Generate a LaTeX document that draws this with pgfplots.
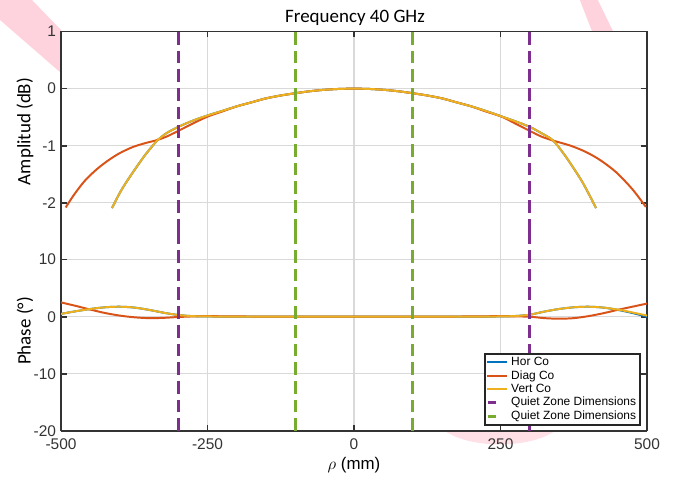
\documentclass[border=0pt]{standalone}
\usepackage{fontspec}
\setmainfont{Liberation Sans}
\newfontfamily\calibri{Carlito}
\usepackage{pgfplots}
\pgfplotsset{compat=1.18}

\definecolor{horco}{HTML}{0072BD}
\definecolor{diagco}{HTML}{D95319}
\definecolor{vertco}{HTML}{EDB120}
\definecolor{qzpurple}{HTML}{7E2F8E}
\definecolor{qzgreen}{HTML}{77AC30}
\definecolor{wmark}{HTML}{FFD3DD}

\pgfplotsset{
  mat/.style={
    width=14.65cm, height=5cm, scale only axis,
    xmin=-500, xmax=500, xtick={-500,-250,0,250,500},
    grid=major, major grid style={draw=black!15, line width=0.8pt},
    tick align=inside, major tick length=0.15cm,
    axis line style={draw=black!80, line width=1.2pt},
    tick style={draw=black!80, line width=1.2pt},
    ticklabel style={font=\fontsize{11}{13}\selectfont, text=black!80},
    /pgf/number format/assume math mode=true,
    axis y line*=box,
    axis background/.style={fill=white},
    ylabel style={font=\calibri\fontsize{13.5}{16}\selectfont,
      at={(axis description cs:-0.0614,0.5)}, anchor=center},
    legend image code/.code={\draw[##1] (0cm,0cm) -- (0.5cm,0cm);},
  },
  curve/.style={line width=1.4pt, smooth},
  qz/.style={line width=2.1pt, dash pattern=on 9pt off 4.3pt,
    legend image code/.code={\draw[##1, solid] (0.02cm,0cm) -- (0.22cm,0cm);}},
}

\begin{document}
\begin{tikzpicture}
\path[use as bounding box] (0,0) rectangle (16.9cm,11.9cm);

% watermark behind the plot
\begin{scope}[x=0.025cm, y=-0.025cm, shift={(0,11.9cm)}]
  \fill[wmark] (0,0) -- (32,0) -- (61,30) -- (61,73) -- (0,20) -- cycle;
  \fill[wmark] (580,0) -- (598,0) -- (613,31) -- (592,31) -- cycle;
  \fill[wmark!70] (445,431) .. controls (470,449) and (530,449) .. (555,431) -- cycle;
\end{scope}

\node[font=\calibri\fontsize{13.5}{16}\selectfont] at (8.875cm,11.45cm) {Frequency 40 GHz};

% amplitude
\begin{axis}[mat,
  at={(1.525cm,6.1125cm)}, anchor=south west,
  axis x line*=top, xticklabels={},
  ymin=-2.5, ymax=1, ytick={-2,-1,0,1},
  ylabel={Amplitud (dB)},
]
\addplot[horco, curve] coordinates {
  (-413,-2.09) (-400,-1.83) (-390,-1.66) (-377,-1.46) (-360,-1.21) (-350,-1.08)
  (-336,-0.91) (-320,-0.78) (-300,-0.67) (-275,-0.56) (-250,-0.47) (-225,-0.39)
  (-200,-0.31) (-175,-0.24) (-150,-0.17) (-125,-0.12) (-100,-0.08) (-75,-0.045)
  (-50,-0.02) (-25,-0.005) (0,0) (25,-0.005) (50,-0.02) (75,-0.045) (100,-0.08)
  (125,-0.12) (150,-0.17) (175,-0.24) (200,-0.31) (225,-0.39) (250,-0.48)
  (275,-0.57) (300,-0.67) (320,-0.78) (340,-0.91) (360,-1.17) (379,-1.46)
  (390,-1.64) (400,-1.83) (413,-2.09)
};
\addplot[diagco, curve] coordinates {
  (-492,-2.08) (-478,-1.86) (-460,-1.62) (-440,-1.42) (-420,-1.26) (-400,-1.13)
  (-377,-1.02) (-355,-0.95) (-336,-0.90) (-320,-0.84) (-300,-0.74) (-275,-0.61)
  (-250,-0.49) (-225,-0.40) (-200,-0.31) (-175,-0.24) (-150,-0.17) (-125,-0.12)
  (-100,-0.08) (-75,-0.045) (-50,-0.02) (-25,-0.005) (0,0) (25,-0.005) (50,-0.02)
  (75,-0.045) (100,-0.08) (125,-0.12) (150,-0.17) (175,-0.24) (200,-0.31)
  (225,-0.40) (252,-0.49) (275,-0.61) (302,-0.75) (320,-0.84) (340,-0.91)
  (370,-1.00) (396,-1.11) (420,-1.25) (447,-1.46) (475,-1.76) (498,-2.07)
};
\addplot[vertco, curve] coordinates {
  (-413,-2.09) (-400,-1.83) (-390,-1.66) (-377,-1.46) (-360,-1.21) (-350,-1.08)
  (-336,-0.91) (-320,-0.78) (-300,-0.67) (-275,-0.56) (-250,-0.47) (-225,-0.39)
  (-200,-0.31) (-175,-0.24) (-150,-0.17) (-125,-0.12) (-100,-0.08) (-75,-0.045)
  (-50,-0.02) (-25,-0.005) (0,0) (25,-0.005) (50,-0.02) (75,-0.045) (100,-0.08)
  (125,-0.12) (150,-0.17) (175,-0.24) (200,-0.31) (225,-0.39) (250,-0.48)
  (275,-0.57) (300,-0.67) (320,-0.78) (340,-0.91) (360,-1.17) (379,-1.46)
  (390,-1.64) (400,-1.83) (413,-2.09)
};
\addplot[qzpurple, qz] coordinates {(-300,-2.5) (-300,1)};
\addplot[qzpurple, qz] coordinates {(300,-2.5) (300,1)};
\addplot[qzgreen, qz] coordinates {(-100,-2.5) (-100,1)};
\addplot[qzgreen, qz] coordinates {(100,-2.5) (100,1)};
\end{axis}

% phase
\begin{axis}[mat,
  at={(1.525cm,1.125cm)}, anchor=south west,
  axis x line*=bottom,
  ymin=-20, ymax=15, ytick={-20,-10,0,10},
  xticklabel style={yshift=-2pt},
  ylabel={Phase (°)},
  xlabel={$\rho$ (mm)},
  xlabel style={font=\fontsize{12}{14}\selectfont, yshift=1.5pt},
  legend style={at={(0.99,0.025)}, anchor=south east,
    draw=black!85, line width=1.2pt, fill=white,
    font=\fontsize{8.5}{10}\selectfont, inner xsep=1pt, inner ysep=0.5pt,
    row sep=-2pt, cells={anchor=west}},
]
\addplot[horco, curve] coordinates {
  (-500,0.5) (-475,0.95) (-450,1.35) (-425,1.65) (-400,1.75) (-375,1.6)
  (-350,1.2) (-325,0.7) (-300,0.3) (-275,0.1) (-250,0.05) (-200,0) (0,0)
  (200,0) (250,0.05) (275,0.12) (300,0.35) (325,0.9) (350,1.35) (375,1.65)
  (400,1.75) (425,1.6) (450,1.2) (475,0.65) (500,0.0)
};
\addlegendentry{Hor Co}
\addplot[diagco, curve] coordinates {
  (-500,2.5) (-475,1.9) (-450,1.25) (-425,0.65) (-400,0.2) (-375,-0.1)
  (-350,-0.25) (-325,-0.2) (-300,-0.05) (-275,0.05) (-250,0.1) (-200,0.05)
  (-100,0) (0,0) (100,0) (200,0.05) (250,0.1) (275,0.05) (300,0) (325,-0.25)
  (350,-0.35) (375,-0.25) (400,0.1) (425,0.6) (450,1.2) (475,1.75) (500,2.3)
};
\addlegendentry{Diag Co}
\addplot[vertco, curve] coordinates {
  (-500,0.5) (-475,0.95) (-450,1.35) (-425,1.65) (-400,1.75) (-375,1.6)
  (-350,1.2) (-325,0.7) (-300,0.3) (-275,0.1) (-250,0.05) (-200,0) (0,0)
  (200,0) (250,0.05) (275,0.12) (300,0.35) (325,0.9) (350,1.35) (375,1.65)
  (400,1.75) (425,1.6) (450,1.25) (475,0.75) (500,0.2)
};
\addlegendentry{Vert Co}
\addplot[qzpurple, qz] coordinates {(-300,-20) (-300,15)};
\addlegendentry{Quiet Zone Dimensions}
\addplot[qzgreen, qz] coordinates {(-100,-20) (-100,15)};
\addlegendentry{Quiet Zone Dimensions}
\addplot[qzpurple, qz, forget plot] coordinates {(300,-20) (300,15)};
\addplot[qzgreen, qz, forget plot] coordinates {(100,-20) (100,15)};
\end{axis}
\end{tikzpicture}
\end{document}
